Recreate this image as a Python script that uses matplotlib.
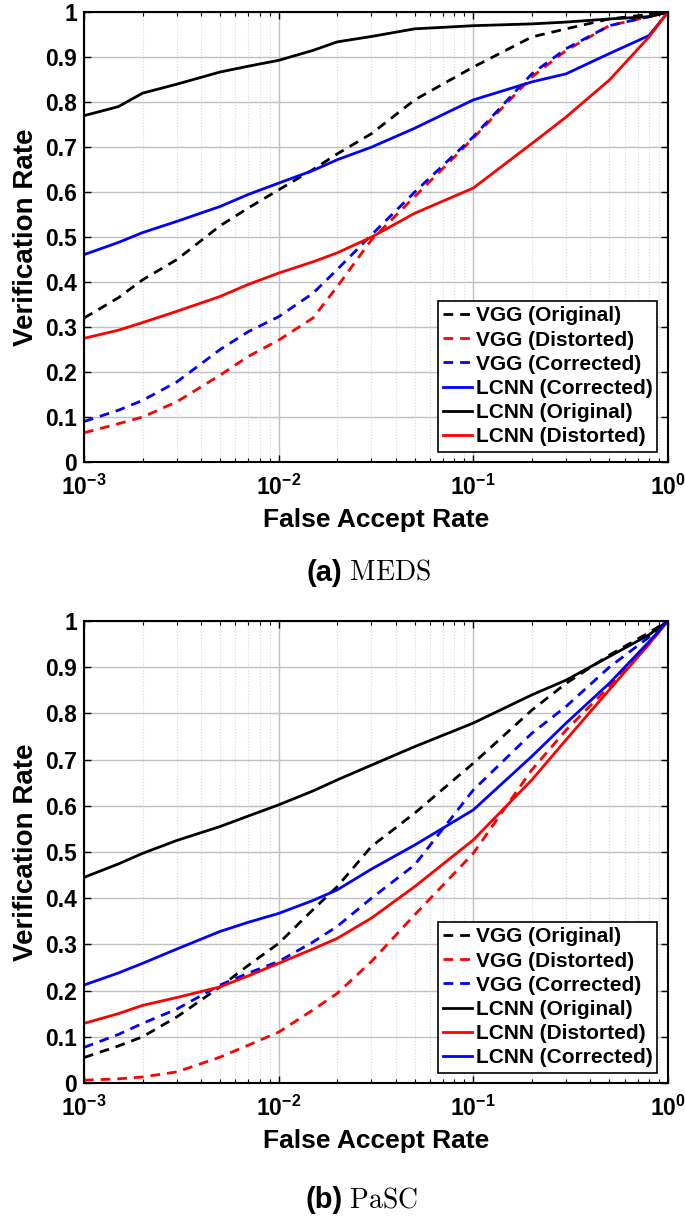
import numpy as np
import matplotlib
matplotlib.use("Agg")
import matplotlib.pyplot as plt
from matplotlib.ticker import LogLocator, NullFormatter

plt.rcParams['font.family'] = ['Liberation Sans', 'DejaVu Sans']
plt.rcParams['font.weight'] = 'bold'
plt.rcParams['mathtext.fontset'] = 'custom'
plt.rcParams['mathtext.bf'] = 'Liberation Sans:bold'
plt.rcParams['mathtext.rm'] = 'Liberation Sans:bold'
plt.rcParams['mathtext.default'] = 'bf'

# ---- data ----
far = [1e-3, 1.5e-3, 2e-3, 3e-3, 5e-3, 7e-3, 1e-2, 1.5e-2, 2e-2, 3e-2, 5e-2, 1e-1, 2e-1, 3e-1, 5e-1, 8e-1, 1.0]

# (a) MEDS
meds_vgg_orig = [0.32, 0.365, 0.405, 0.45, 0.525, 0.565, 0.605, 0.65, 0.685, 0.73, 0.805, 0.878, 0.945, 0.963, 0.985, 0.995, 1.0]
meds_vgg_dist = [0.065, 0.085, 0.10, 0.134, 0.193, 0.235, 0.271, 0.32, 0.39, 0.494, 0.59, 0.72, 0.856, 0.915, 0.97, 0.99, 1.0]
meds_vgg_corr = [0.09, 0.115, 0.137, 0.178, 0.25, 0.29, 0.323, 0.375, 0.428, 0.505, 0.60, 0.723, 0.863, 0.919, 0.97, 0.99, 1.0]
meds_lcnn_corr = [0.461, 0.488, 0.51, 0.535, 0.568, 0.595, 0.62, 0.648, 0.672, 0.70, 0.742, 0.805, 0.845, 0.863, 0.908, 0.948, 1.0]
meds_lcnn_orig = [0.77, 0.79, 0.82, 0.84, 0.867, 0.88, 0.893, 0.915, 0.934, 0.946, 0.963, 0.97, 0.974, 0.978, 0.985, 0.99, 1.0]
meds_lcnn_dist = [0.275, 0.293, 0.31, 0.335, 0.368, 0.395, 0.42, 0.445, 0.465, 0.50, 0.553, 0.609, 0.708, 0.767, 0.849, 0.945, 1.0]

# (b) PaSC
pasc_vgg_orig = [0.055, 0.08, 0.10, 0.143, 0.208, 0.255, 0.302, 0.375, 0.425, 0.512, 0.584, 0.692, 0.807, 0.865, 0.926, 0.975, 1.0]
pasc_vgg_dist = [0.006, 0.009, 0.013, 0.024, 0.056, 0.082, 0.11, 0.158, 0.194, 0.263, 0.364, 0.497, 0.678, 0.764, 0.858, 0.95, 1.0]
pasc_vgg_corr = [0.077, 0.105, 0.129, 0.16, 0.212, 0.238, 0.263, 0.305, 0.339, 0.40, 0.472, 0.634, 0.757, 0.815, 0.90, 0.965, 1.0]
pasc_lcnn_orig = [0.445, 0.474, 0.497, 0.525, 0.555, 0.578, 0.602, 0.632, 0.656, 0.688, 0.728, 0.779, 0.84, 0.872, 0.923, 0.97, 1.0]
pasc_lcnn_dist = [0.129, 0.15, 0.168, 0.185, 0.208, 0.232, 0.259, 0.29, 0.313, 0.357, 0.425, 0.526, 0.656, 0.743, 0.851, 0.95, 1.0]
pasc_lcnn_corr = [0.212, 0.238, 0.259, 0.29, 0.328, 0.348, 0.367, 0.395, 0.418, 0.463, 0.515, 0.591, 0.707, 0.779, 0.865, 0.955, 1.0]

xtick_vals = [1e-3, 1e-2, 1e-1, 1]
xtick_labels = [r'$10^{-3}$', r'$10^{-2}$', r'$10^{-1}$', r'$10^{0}$']
ytick_vals = np.round(np.arange(0, 1.01, 0.1), 1)
ytick_labels = ['0', '0.1', '0.2', '0.3', '0.4', '0.5', '0.6', '0.7', '0.8', '0.9', '1']

dash = (0, (3.5, 2.5))
meds_series = [
    (meds_vgg_orig, 'k', dash, 'VGG (Original)'),
    (meds_vgg_dist, 'r', dash, 'VGG (Distorted)'),
    (meds_vgg_corr, 'b', dash, 'VGG (Corrected)'),
    (meds_lcnn_corr, 'b', '-', 'LCNN (Corrected)'),
    (meds_lcnn_orig, 'k', '-', 'LCNN (Original)'),
    (meds_lcnn_dist, 'r', '-', 'LCNN (Distorted)'),
]
pasc_series = [
    (pasc_vgg_orig, 'k', dash, 'VGG (Original)'),
    (pasc_vgg_dist, 'r', dash, 'VGG (Distorted)'),
    (pasc_vgg_corr, 'b', dash, 'VGG (Corrected)'),
    (pasc_lcnn_orig, 'k', '-', 'LCNN (Original)'),
    (pasc_lcnn_dist, 'r', '-', 'LCNN (Distorted)'),
    (pasc_lcnn_corr, 'b', '-', 'LCNN (Corrected)'),
]

fig = plt.figure(figsize=(6.85, 12.2), dpi=100)
ax1 = fig.add_axes([0.1226, 0.6213, 0.8524, 0.3687])
ax2 = fig.add_axes([0.1226, 0.1123, 0.8524, 0.3787])


def draw(ax, series, caption_label, caption_name, cap_y):
    for vals, c, ls, lab in series:
        ax.plot(far, vals, color=c, linestyle=ls, linewidth=2, label=lab)
    ax.set_xscale('log')
    ax.set_xlim(1e-3, 1)
    ax.set_ylim(0, 1)
    ax.set_xticks(xtick_vals)
    ax.set_xticklabels(xtick_labels)
    ax.xaxis.set_minor_locator(LogLocator(base=10, subs=np.arange(2, 10), numticks=20))
    ax.xaxis.set_minor_formatter(NullFormatter())
    ax.set_yticks(ytick_vals)
    ax.set_yticklabels(ytick_labels)
    ax.tick_params(axis='both', which='both', direction='in', top=True, right=True, labelsize=16.5)
    ax.tick_params(axis='x', pad=9)
    ax.tick_params(axis='y', pad=5)
    ax.tick_params(which='major', length=5, width=1)
    ax.tick_params(which='minor', length=3, width=0.8)
    ax.grid(True, which='major', color='#c0c0c0', linewidth=1)
    ax.grid(True, which='minor', axis='x', color='#d8d8d8', linestyle=':', linewidth=0.8)
    ax.set_axisbelow(True)
    for sp in ax.spines.values():
        sp.set_linewidth(1.5)
    ax.set_xlabel('False Accept Rate', fontsize=19, fontweight='bold', labelpad=6)
    ax.set_ylabel('Verification Rate', fontsize=20, fontweight='bold', labelpad=4)
    leg = ax.legend(loc='lower right', fontsize=15, handlelength=1.4, handletextpad=0.15,
                    labelspacing=0.25, borderpad=0.25, borderaxespad=0.5, fancybox=False,
                    framealpha=1, edgecolor='k')
    leg.get_frame().set_linewidth(1.2)
    fig.text(0.5, cap_y, caption_label, ha='right', va='center', fontsize=21, fontweight='bold')
    fig.text(0.5, cap_y, ' ' + r'$\mathrm{' + caption_name + '}$', ha='left', va='center',
             fontsize=20, math_fontfamily='cm')


draw(ax1, meds_series, '(a)', 'MEDS', 1 - 573 / 1220)
draw(ax2, pasc_series, '(b)', 'PaSC', 1 - 1200 / 1220)

fig.savefig('out.png', dpi=100)
